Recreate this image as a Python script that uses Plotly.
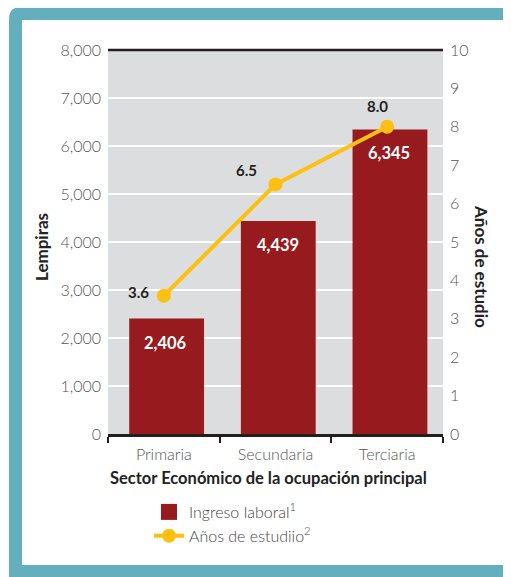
import plotly.graph_objects as go

categories = ["Primaria", "Secundaria", "Terciaria"]
ingreso = [2406, 4439, 6345]
anios = [3.6, 6.5, 8.0]
left_ticks = [0, 1000, 2000, 3000, 4000, 5000, 6000, 7000, 8000]
right_ticks = [0, 1, 2, 3, 4, 5, 6, 7, 8, 9, 10]

OFF = 8  # page body margin
W, H = 511 - OFF, 577 - OFF
# plot area in reference pixels: x 108..443, y 50..434
L, T = 108 - OFF, 50 - OFF
R, B = W - (443 - OFF), H - (434 - OFF)
PW, PH = W - L - R, H - T - B

def px(x):
    return (x - OFF - L) / PW

def py(y):
    return (H - B - (y - OFF)) / PH

def rounded(x0, y0, x1, y1, r):
    X0, X1, Y0, Y1 = px(x0), px(x1), py(y0), py(y1)
    rx, ry = r / PW, r / PH
    return (f"M {X0+rx},{Y0} L {X1-rx},{Y0} Q {X1},{Y0} {X1},{Y0-ry} "
            f"L {X1},{Y1+ry} Q {X1},{Y1} {X1-rx},{Y1} L {X0+rx},{Y1} "
            f"Q {X0},{Y1} {X0},{Y1+ry} L {X0},{Y0-ry} Q {X0},{Y0} {X0+rx},{Y0} Z")

TEAL = "#63AFBD"
RED = "#961A1E"
GOLD = "#FDC010"
FONT = "Lato"
TICK = dict(family=FONT, size=16, color="#555", weight=300)

fig = go.Figure()
fig.add_trace(go.Bar(
    x=categories, y=ingreso, name="Ingreso laboral<sup>1</sup>",
    marker=dict(color=RED, line=dict(width=0)), width=0.67, offset=-0.31,
    showlegend=False, legendgroup="ing",
))
# legend entry for the bars (larger square swatch)
fig.add_trace(go.Scatter(
    x=[None], y=[None], mode="markers", name="Ingreso laboral<sup>1</sup>",
    marker=dict(color=RED, symbol="square", size=16), legendgroup="ing",
))
fig.add_trace(go.Scatter(
    x=categories, y=anios, yaxis="y2", mode="lines+markers",
    name="Años de estudiio<sup>2</sup>",
    line=dict(color=GOLD, width=4), marker=dict(color=GOLD, size=14),
))

ann = []
for c, v in zip(categories, ingreso):
    ann.append(dict(x=c, y=v, xref="x", yref="y", text=f"<b>{v:,}</b>",
                    showarrow=False, yshift=-24, xshift=2, xanchor="center", yanchor="middle",
                    font=dict(family=FONT, size=16.5, color="white")))
label_offsets = [(-25, 4), (-29, 14), (-10, 21)]
for c, v, (dx, dy) in zip(categories, anios, label_offsets):
    ann.append(dict(x=c, y=v, xref="x", yref="y2", text=f"<b>{v:.1f}</b>",
                    showarrow=False, xshift=dx, yshift=dy, xanchor="center", yanchor="middle",
                    font=dict(family=FONT, size=15, color="#222")))
ann.append(dict(x=px(42), y=py(247), xref="paper", yref="paper", text="<b>Lempiras</b>",
                textangle=-90, showarrow=False, xanchor="center", yanchor="middle",
                font=dict(family=FONT, size=17, color="#222")))
ann.append(dict(x=px(482), y=py(266), xref="paper", yref="paper", text="<b>Años de estudio</b>",
                textangle=90, showarrow=False, xanchor="center", yanchor="middle",
                font=dict(family=FONT, size=17, color="#222")))
ann.append(dict(x=px(268), y=py(478), xref="paper", yref="paper",
                text="<b>Sector Económico de la ocupación principal</b>",
                showarrow=False, xanchor="center", yanchor="middle",
                font=dict(family=FONT, size=16.5, color="#222")))

shapes = [
    dict(type="path", xref="paper", yref="paper", path=rounded(9, 7, 530, 595, 12),
         fillcolor=TEAL, line=dict(width=0), layer="below"),
    dict(type="rect", xref="paper", yref="paper", x0=px(22), x1=px(504), y0=py(565), y1=py(20),
         fillcolor="white", line=dict(width=0), layer="below"),
    dict(type="rect", xref="paper", yref="paper", x0=0, x1=1, y0=0, y1=1,
         fillcolor="#DCDDDF", line=dict(width=0), layer="below"),
    dict(type="line", xref="paper", yref="paper", x0=0, x1=1, y0=1, y1=1,
         line=dict(color="#231F20", width=2.5)),
]

fig.update_layout(
    width=W, height=H,
    margin=dict(l=L, r=R, t=T, b=B, autoexpand=False),
    paper_bgcolor="white", plot_bgcolor="rgba(0,0,0,0)",
    font=dict(family=FONT, size=14, color="#444"),
    showlegend=True,
    legend=dict(x=px(149), y=py(495), xanchor="left", yanchor="top",
                bgcolor="rgba(0,0,0,0)", font=dict(family=FONT, size=16, color="#444", weight=300),
                tracegroupgap=0, itemwidth=30, itemsizing="trace"),
    xaxis=dict(showline=True, linecolor="#231F20", linewidth=2.5,
               ticks="outside", tickson="boundaries", ticklen=6, tickcolor="#231F20",
               tickwidth=1.5, tickfont=TICK, showgrid=False, ticklabelstandoff=4),
    yaxis=dict(range=[0, 8000], tickvals=left_ticks, tickformat=",", showgrid=True,
               gridcolor="white", gridwidth=1.5, zeroline=False, ticks="",
               tickfont=TICK, ticklabelstandoff=6),
    yaxis2=dict(range=[0, 10], tickvals=right_ticks, overlaying="y", side="right",
                showgrid=False, zeroline=False, ticks="",
                tickfont=TICK, ticklabelstandoff=6),
    annotations=ann, shapes=shapes,
)

fig.write_html("out.html")
